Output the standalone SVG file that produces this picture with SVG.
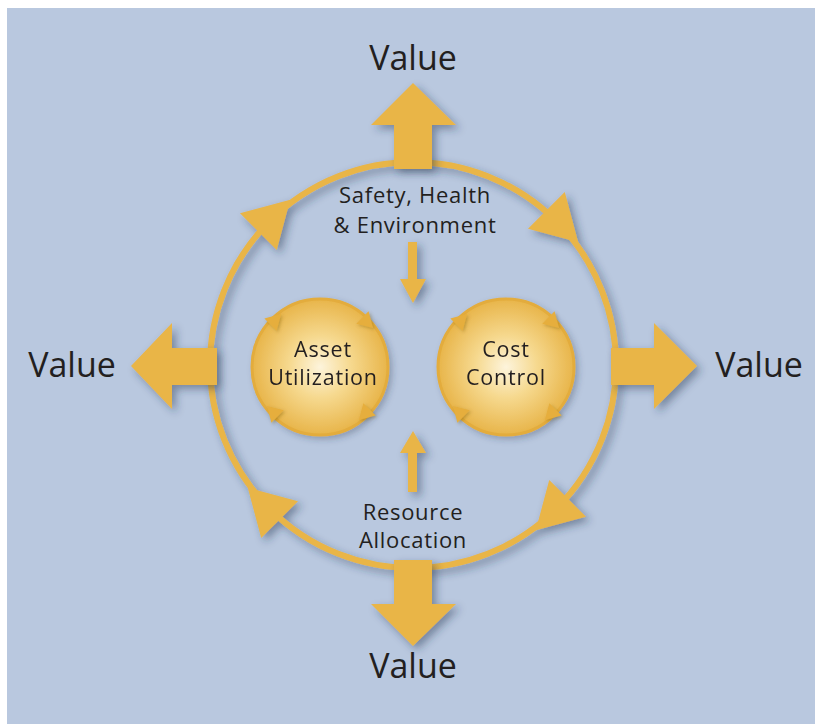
<svg xmlns="http://www.w3.org/2000/svg" width="815" height="724" viewBox="0 0 815 724">
  <defs>
    <style>
      .gold { fill: #e9b547; }
      .tip { fill: #e6ae3c; }
      .lbl { font-family: "Open Sans", "Noto Sans", "Liberation Sans", sans-serif; fill: #231f20; text-anchor: middle; }
      .val { font-size: 34px; }
      .mid { font-size: 22px; letter-spacing: 0.7px; }
      .inner { font-size: 21.5px; letter-spacing: 0.8px; }
    </style>
    <filter id="shadow" x="-30%" y="-30%" width="160%" height="160%">
      <feDropShadow dx="4" dy="4" stdDeviation="4" flood-color="#26354f" flood-opacity="0.45"/>
    </filter>
    <filter id="softShadow" x="-30%" y="-30%" width="160%" height="160%">
      <feDropShadow dx="3" dy="3" stdDeviation="3" flood-color="#26354f" flood-opacity="0.3"/>
    </filter>
    <filter id="tipShadow" x="-50%" y="-50%" width="200%" height="200%">
      <feDropShadow dx="1.5" dy="1.5" stdDeviation="1.5" flood-color="#7a5a10" flood-opacity="0.35"/>
    </filter>
    <radialGradient id="orb" cx="50%" cy="50%" r="50%">
      <stop offset="0" stop-color="#fdf4dc"/>
      <stop offset="0.45" stop-color="#f6d98f"/>
      <stop offset="1" stop-color="#e8b54a"/>
    </radialGradient>
    <!-- ring arrowhead, pointing along +x -->
    <polygon id="bigHead" points="30,0 -15,26 -15,-26"/>
    <!-- orb arrowhead, pointing along +x -->
    <polygon id="smallHead" points="10,0 -5,8.7 -5,-8.7"/>
  </defs>

  <!-- backdrop -->
  <rect x="7" y="8" width="808" height="716" fill="#b9c8df"/>

  <!-- main cycle ring with its clockwise heads -->
  <g id="cycle" filter="url(#shadow)">
    <circle cx="413" cy="365" r="203" fill="none" stroke="#e9b547" stroke-width="6"/>
    <use href="#bigHead" class="gold" transform="translate(269,221) rotate(-45)"/>
    <use href="#bigHead" class="gold" transform="translate(557,221) rotate(45)"/>
    <use href="#bigHead" class="gold" transform="translate(557,509) rotate(135)"/>
    <use href="#bigHead" class="gold" transform="translate(269,509) rotate(225)"/>
  </g>

  <!-- outward value arrows and inward feed arrows -->
  <g id="connectors" class="gold" filter="url(#shadow)">
    <polygon id="arrow-up" points="394,169 394,125 371,125 413,83 456,125 432,125 432,169"/>
    <polygon id="arrow-down" points="394,560 432,560 432,604 456,604 413,646 371,604 394,604"/>
    <polygon id="arrow-left" points="217,348 172,348 172,323 131,366 172,409 172,385 217,385"/>
    <polygon id="arrow-right" points="611,348 654,348 654,323 697,366 654,409 654,385 611,385"/>
    <polygon id="arrow-in-top" points="408,242 417,242 417,279 426,279 413,303 400,279 408,279"/>
    <polygon id="arrow-in-bottom" points="408,492 417,492 417,453 426,453 413,431 400,453 408,453"/>
  </g>

  <g id="value-top"><text class="lbl val" x="413" y="70">Value</text></g>
  <g id="value-bottom"><text class="lbl val" x="413" y="678">Value</text></g>
  <g id="value-left"><text class="lbl val" x="72" y="377">Value</text></g>
  <g id="value-right"><text class="lbl val" x="759" y="377">Value</text></g>

  <g id="safety">
    <text class="lbl mid" x="415" y="203">Safety, Health</text>
    <text class="lbl mid" x="415" y="233">&amp; Environment</text>
  </g>

  <g id="resource">
    <text class="lbl mid" x="413" y="520">Resource</text>
    <text class="lbl mid" x="413" y="548">Allocation</text>
  </g>

  <g id="asset" transform="translate(320,367)">
    <circle r="68" fill="url(#orb)" stroke="#e3ac3c" stroke-width="3" filter="url(#softShadow)"/>
    <g class="tip" filter="url(#tipShadow)">
      <use href="#smallHead" transform="rotate(225) translate(65,0) rotate(90)"/>
      <use href="#smallHead" transform="rotate(-45) translate(65,0) rotate(90)"/>
      <use href="#smallHead" transform="rotate(45) translate(65,0) rotate(90)"/>
      <use href="#smallHead" transform="rotate(135) translate(65,0) rotate(90)"/>
    </g>
    <text class="lbl inner" x="3" y="-10">Asset</text>
    <text class="lbl inner" x="3" y="18">Utilization</text>
  </g>

  <g id="cost" transform="translate(506,367)">
    <circle r="68" fill="url(#orb)" stroke="#e3ac3c" stroke-width="3" filter="url(#softShadow)"/>
    <g class="tip" filter="url(#tipShadow)">
      <use href="#smallHead" transform="rotate(225) translate(65,0) rotate(90)"/>
      <use href="#smallHead" transform="rotate(-45) translate(65,0) rotate(90)"/>
      <use href="#smallHead" transform="rotate(45) translate(65,0) rotate(90)"/>
      <use href="#smallHead" transform="rotate(135) translate(65,0) rotate(90)"/>
    </g>
    <text class="lbl inner" x="0" y="-10">Cost</text>
    <text class="lbl inner" x="0" y="18">Control</text>
  </g>
</svg>
